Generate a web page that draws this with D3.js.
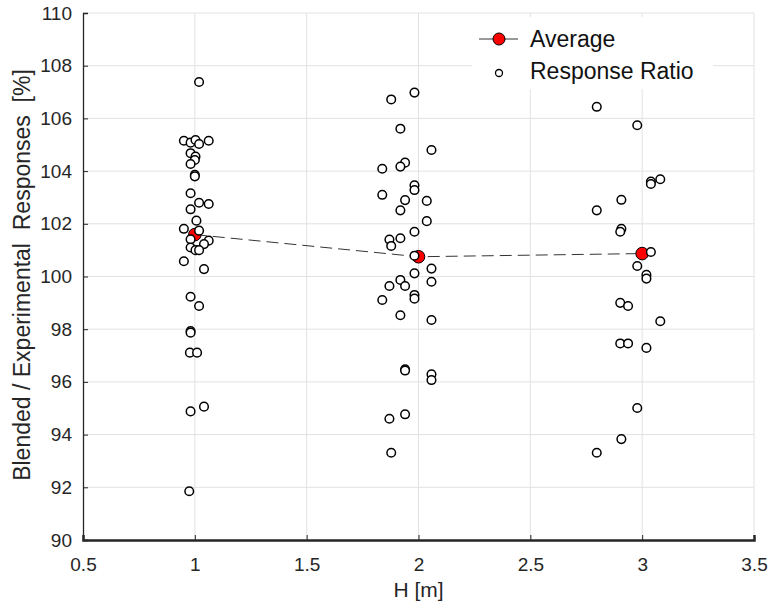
<!DOCTYPE html>
<html>
<head>
<meta charset="utf-8">
<script src="https://cdn.jsdelivr.net/npm/d3@7"></script>
<style>
  body { margin: 0; background: #fff; }
  text { font-family: "Liberation Sans", Arial, sans-serif; }
</style>
</head>
<body>
<div id="viz"></div>
<script>
// response ratio samples: [H, ratio %]
const group1 = [
  [1.019, 107.38], [0.951, 105.15], [0.981, 105.08], [1.003, 105.18], [1.019, 105.03],
  [1.062, 105.15], [0.981, 104.68], [1.003, 104.55], [1.0, 104.42], [0.981, 104.27],
  [1.0, 103.86], [1.0, 103.8], [0.981, 103.16], [1.019, 102.8], [1.062, 102.75],
  [0.981, 102.55], [1.007, 102.12], [0.951, 101.81], [1.019, 101.74], [0.981, 101.41],
  [1.062, 101.36], [1.041, 101.23], [0.981, 101.1], [1.003, 101.0], [1.019, 101.0],
  [0.951, 100.58], [1.041, 100.28], [0.981, 99.23], [1.019, 98.88], [0.981, 97.93],
  [0.981, 97.87], [0.978, 97.11], [1.01, 97.11], [1.041, 95.06], [0.981, 94.88],
  [0.975, 91.85]
];
const group2 = [
  [1.982, 106.98], [1.878, 106.72], [1.919, 105.61], [2.058, 104.8], [1.94, 104.32],
  [1.919, 104.17], [1.838, 104.09], [1.982, 103.46], [1.982, 103.28], [1.838, 103.1],
  [1.94, 102.9], [2.037, 102.87], [1.919, 102.51], [2.037, 102.1], [1.982, 101.7],
  [1.919, 101.45], [1.87, 101.4], [1.878, 101.16], [1.982, 100.79], [1.982, 100.12],
  [2.058, 100.3], [1.919, 99.87], [1.87, 99.64], [1.94, 99.64], [2.058, 99.8],
  [1.982, 99.3], [1.982, 99.16], [1.838, 99.11], [1.919, 98.53], [2.058, 98.35],
  [1.94, 96.48], [1.94, 96.43], [2.058, 96.29], [2.058, 96.07], [1.94, 94.77],
  [1.87, 94.6], [1.878, 93.31]
];
const group3 = [
  [2.797, 106.44], [2.978, 105.74], [3.081, 103.69], [3.039, 103.6], [3.039, 103.51],
  [2.907, 102.91], [2.797, 102.51], [2.907, 101.81], [2.902, 101.7], [3.039, 100.93],
  [2.978, 100.4], [3.019, 100.06], [3.019, 99.92], [2.902, 99.0], [2.937, 98.88],
  [3.081, 98.3], [2.902, 97.46], [2.937, 97.46], [3.019, 97.29], [2.978, 95.01],
  [2.907, 93.83], [2.797, 93.31]
];
const avgH = [1, 2, 3];
const avgValue = [101.59, 100.75, 100.87];
const xTicks = [0.5, 1, 1.5, 2, 2.5, 3, 3.5];
const yTicks = [90, 92, 94, 96, 98, 100, 102, 104, 106, 108, 110];

const points = group1.concat(group2, group3);
const averages = avgH.map((h, i) => ({ x: h, y: avgValue[i] }));

let w = 769;
let h = 612;
let plotLeft = 83, plotRight = 754, plotTop = 13, plotBottom = 540;
let axisColor = "#262626";

const svg = d3.select("#viz")
  .append("svg")
  .attr("width", w)
  .attr("height", h);

const xScale = d3.scaleLinear()
  .domain([0.5, 3.5])
  .range([plotLeft, plotRight]);

const yScale = d3.scaleLinear()
  .domain([90, 110])
  .range([plotBottom, plotTop]);

// grid
let grid = svg.append("g")
grid.selectAll(".gx")
  .data(xTicks.slice(1))
  .enter()
  .append("line")
  .attr("x1", d => xScale(d))
  .attr("x2", d => xScale(d))
  .attr("y1", plotTop)
  .attr("y2", plotBottom)
  .attr("stroke", "#e2e2e2")
  .attr("stroke-width", 1)

grid.selectAll(".gy")
  .data(yTicks.slice(1))
  .enter()
  .append("line")
  .attr("x1", plotLeft)
  .attr("x2", plotRight)
  .attr("y1", d => yScale(d))
  .attr("y2", d => yScale(d))
  .attr("stroke", "#e2e2e2")
  .attr("stroke-width", 1)

// axes
const xAxis = d3.axisBottom(xScale)
  .tickValues(xTicks)
  .tickSize(-5)
  .tickPadding(18)
  .tickFormat(d => d);

const yAxis = d3.axisLeft(yScale)
  .tickValues(yTicks)
  .tickSize(-5)
  .tickPadding(11);

let gx = svg.append("g")
  .attr("transform", `translate(0,${plotBottom})`)
  .call(xAxis);

let gy = svg.append("g")
  .attr("transform", `translate(${plotLeft},0)`)
  .call(yAxis);

[gx, gy].forEach(g => {
  g.select(".domain").attr("stroke", axisColor).attr("stroke-width", 1.3)
  g.selectAll(".tick line").attr("stroke", axisColor).attr("stroke-width", 1)
  g.selectAll(".tick text")
    .attr("fill", axisColor)
    .style("font-size", "19px")
    .style("font-family", "Liberation Sans, Arial, sans-serif")
})
gx.select(".domain").attr("stroke-width", 2.5)

// axis labels
svg.append("text")
  .attr("x", xScale(2))
  .attr("y", 597)
  .attr("text-anchor", "middle")
  .attr("fill", axisColor)
  .style("font-size", "21px")
  .text("H [m]")

svg.append("text")
  .attr("transform", `translate(30,275) rotate(-90)`)
  .attr("text-anchor", "middle")
  .attr("fill", axisColor)
  .style("font-size", "23px")
  .style("white-space", "pre")
  .text("Blended / Experimental  Responses  [%]")

// average line + markers
const line = d3.line()
  .x(d => xScale(d.x))
  .y(d => yScale(d.y));

svg.append("path")
  .datum(averages)
  .attr("d", line)
  .attr("fill", "none")
  .attr("stroke", "black")
  .attr("stroke-width", 0.8)
  .attr("stroke-dasharray", "12,6")

svg.append("g")
  .selectAll("circle")
  .data(averages)
  .enter()
  .append("circle")
  .attr("cx", d => xScale(d.x))
  .attr("cy", d => yScale(d.y))
  .attr("r", 6.3)
  .attr("fill", "red")
  .attr("stroke", "black")
  .attr("stroke-width", 1)

// response ratio points
svg.append("g")
  .selectAll("circle")
  .data(points)
  .enter()
  .append("circle")
  .attr("cx", d => xScale(d[0]))
  .attr("cy", d => yScale(d[1]))
  .attr("r", 4.3)
  .attr("fill", "white")
  .attr("stroke", "black")
  .attr("stroke-width", 1.5)

// legend
let legend = svg.append("g")
legend.append("rect")
  .attr("x", 472)
  .attr("y", 17)
  .attr("width", 241)
  .attr("height", 72)
  .attr("fill", "white")

legend.append("line")
  .attr("x1", 479)
  .attr("x2", 518)
  .attr("y1", 39)
  .attr("y2", 39)
  .attr("stroke", "black")
  .attr("stroke-width", 0.8)

legend.append("circle")
  .attr("cx", 499)
  .attr("cy", 39)
  .attr("r", 6)
  .attr("fill", "red")
  .attr("stroke", "black")
  .attr("stroke-width", 1)

legend.append("circle")
  .attr("cx", 499)
  .attr("cy", 73)
  .attr("r", 3.5)
  .attr("fill", "white")
  .attr("stroke", "black")
  .attr("stroke-width", 1.3)

legend.append("text")
  .attr("x", 530)
  .attr("y", 47)
  .attr("fill", "#111")
  .style("font-size", "23px")
  .text("Average")

legend.append("text")
  .attr("x", 530)
  .attr("y", 79)
  .attr("fill", "#111")
  .style("font-size", "23px")
  .text("Response Ratio")
</script>
</body>
</html>
